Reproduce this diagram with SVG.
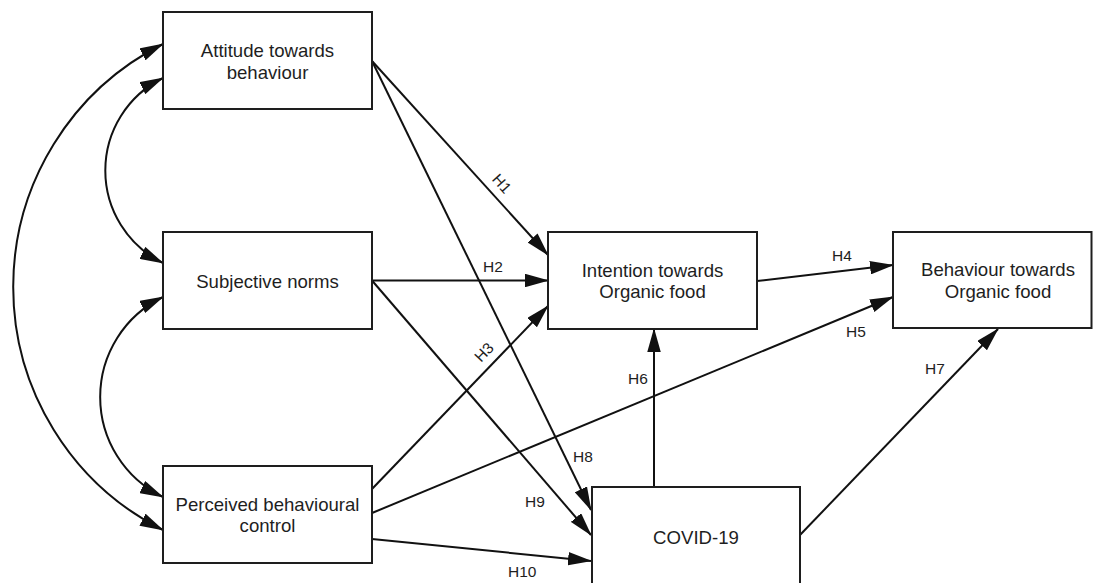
<svg xmlns="http://www.w3.org/2000/svg" width="1093" height="583" viewBox="0 0 1093 583">
  <style>
    .box { fill: #ffffff; stroke: #1e1e1e; stroke-width: 2; }
    .node-text { font-family: "Liberation Sans", Arial, sans-serif; font-size: 18.6px; fill: #1e1e1e; text-anchor: middle; }
    .edge { fill: none; stroke: #111111; stroke-width: 2; marker-end: url(#ah); }
    .both { marker-start: url(#ah); }
    .lbl { font-family: "Liberation Sans", Arial, sans-serif; font-size: 15.5px; fill: #1e1e1e; }
    .lbl-c { text-anchor: middle; }
  </style>
  <defs>
    <marker id="ah" viewBox="0 0 24 13.5" refX="23" refY="6.75" markerWidth="24" markerHeight="13.5" markerUnits="userSpaceOnUse" orient="auto-start-reverse">
      <path d="M0,0 L24,6.75 L0,13.5 Z" fill="#111111"/>
    </marker>
  </defs>
  <rect width="1093" height="583" fill="#ffffff"/>

  <!-- connectors -->
  <g id="connectors">
    <!-- correlations between the three predictors -->
    <path class="edge both" d="M163,44 A272,272 0 0 0 163,530"/>
    <path class="edge both" d="M163,78 A103,103 0 0 0 163,263"/>
    <path class="edge both" d="M163,297 A111,111 0 0 0 163,497"/>
    <!-- hypothesised paths -->
    <path class="edge" d="M372,61 L548,255"/>
    <path class="edge" d="M372,61 L591,510"/>
    <path class="edge" d="M372,280.5 L548,280.5"/>
    <path class="edge" d="M372,280.5 L591,535"/>
    <path class="edge" d="M372,489 L548,306"/>
    <path class="edge" d="M372,513 L893,297"/>
    <path class="edge" d="M372,539 L591,561"/>
    <path class="edge" d="M757,281 L893,265"/>
    <path class="edge" d="M654,487 L654,329"/>
    <path class="edge" d="M800,535 L998,329"/>
    <!-- path labels -->
    <text class="lbl lbl-c" transform="translate(502,183.5) rotate(48)" y="5.5">H1</text>
    <text class="lbl" x="483" y="271.5">H2</text>
    <text class="lbl lbl-c" transform="translate(484,352) rotate(-46)" y="5.5">H3</text>
    <text class="lbl" x="832" y="260.5">H4</text>
    <text class="lbl" x="846" y="337">H5</text>
    <text class="lbl" x="628" y="384">H6</text>
    <text class="lbl" x="925" y="374">H7</text>
    <text class="lbl" x="573" y="461.5">H8</text>
    <text class="lbl" x="525" y="506.5">H9</text>
    <text class="lbl" x="508" y="577">H10</text>
  </g>

  <g id="attitude">
    <rect class="box" x="163" y="12" width="209" height="97"/>
    <text class="node-text" x="267.5" y="57">Attitude towards</text>
    <text class="node-text" x="267.5" y="78.5">behaviour</text>
  </g>

  <g id="subjective-norms">
    <rect class="box" x="163" y="232" width="209" height="97"/>
    <text class="node-text" x="267.5" y="287.5">Subjective norms</text>
  </g>

  <g id="perceived-control">
    <rect class="box" x="163" y="466" width="209" height="97"/>
    <text class="node-text" x="267.5" y="510.5">Perceived behavioural</text>
    <text class="node-text" x="267.5" y="532">control</text>
  </g>

  <g id="intention">
    <rect class="box" x="548" y="232" width="209" height="97"/>
    <text class="node-text" x="652.5" y="276.5">Intention towards</text>
    <text class="node-text" x="652.5" y="298">Organic food</text>
  </g>

  <g id="behaviour">
    <rect class="box" x="893" y="232" width="198.5" height="96"/>
    <text class="node-text" x="998" y="276">Behaviour towards</text>
    <text class="node-text" x="998" y="297.5">Organic food</text>
  </g>

  <g id="covid">
    <rect class="box" x="592" y="487" width="208" height="100"/>
    <text class="node-text" x="696" y="543.5">COVID-19</text>
  </g>
</svg>
